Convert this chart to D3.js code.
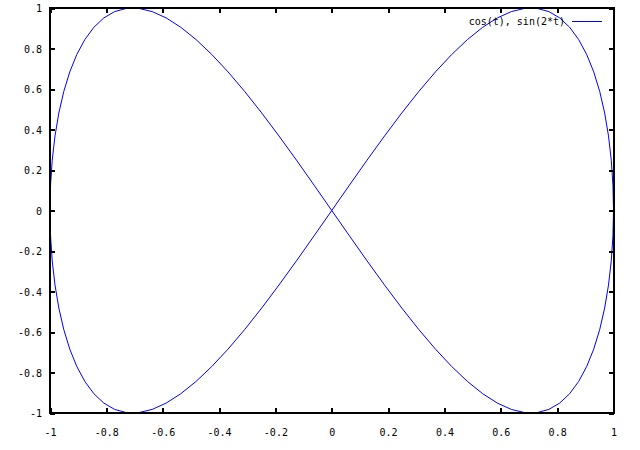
<!DOCTYPE html>
<html>
<head>
<meta charset="utf-8">
<script src="https://cdn.jsdelivr.net/npm/d3@7"></script>
<style>
  html, body { margin: 0; padding: 0; background: #fff; }
  svg { display: block; }
  text { font-family: "DejaVu Sans Mono", "Liberation Mono", monospace; font-size: 10px; fill: #000; }
</style>
</head>
<body>
<svg id="chart" width="640" height="450"></svg>
<script>
const xValues = [
  1.0000, 0.9980, 0.9921, 0.9823, 0.9686, 0.9511, 0.9298, 0.9048, 0.8763, 0.8443,
  0.8090, 0.7705, 0.7290, 0.6845, 0.6374, 0.5878, 0.5358, 0.4818, 0.4258, 0.3681,
  0.3090, 0.2487, 0.1874, 0.1253, 0.0628, 0.0000,
  -0.0628, -0.1253, -0.1874, -0.2487, -0.3090, -0.3681, -0.4258, -0.4818, -0.5358, -0.5878,
  -0.6374, -0.6845, -0.7290, -0.7705, -0.8090, -0.8443, -0.8763, -0.9048, -0.9298, -0.9511,
  -0.9686, -0.9823, -0.9921, -0.9980, -1.0000,
  -0.9980, -0.9921, -0.9823, -0.9686, -0.9511, -0.9298, -0.9048, -0.8763, -0.8443, -0.8090,
  -0.7705, -0.7290, -0.6845, -0.6374, -0.5878, -0.5358, -0.4818, -0.4258, -0.3681, -0.3090,
  -0.2487, -0.1874, -0.1253, -0.0628, 0.0000,
  0.0628, 0.1253, 0.1874, 0.2487, 0.3090, 0.3681, 0.4258, 0.4818, 0.5358, 0.5878,
  0.6374, 0.6845, 0.7290, 0.7705, 0.8090, 0.8443, 0.8763, 0.9048, 0.9298, 0.9511,
  0.9686, 0.9823, 0.9921, 0.9980, 1.0000
];
const yValues = [
  0.0000, 0.1253, 0.2487, 0.3681, 0.4818, 0.5878, 0.6845, 0.7705, 0.8443, 0.9048,
  0.9511, 0.9823, 0.9980, 0.9980, 0.9823, 0.9511, 0.9048, 0.8443, 0.7705, 0.6845,
  0.5878, 0.4818, 0.3681, 0.2487, 0.1253, 0.0000,
  -0.1253, -0.2487, -0.3681, -0.4818, -0.5878, -0.6845, -0.7705, -0.8443, -0.9048, -0.9511,
  -0.9823, -0.9980, -0.9980, -0.9823, -0.9511, -0.9048, -0.8443, -0.7705, -0.6845, -0.5878,
  -0.4818, -0.3681, -0.2487, -0.1253, 0.0000,
  0.1253, 0.2487, 0.3681, 0.4818, 0.5878, 0.6845, 0.7705, 0.8443, 0.9048, 0.9511,
  0.9823, 0.9980, 0.9980, 0.9823, 0.9511, 0.9048, 0.8443, 0.7705, 0.6845, 0.5878,
  0.4818, 0.3681, 0.2487, 0.1253, 0.0000,
  -0.1253, -0.2487, -0.3681, -0.4818, -0.5878, -0.6845, -0.7705, -0.8443, -0.9048, -0.9511,
  -0.9823, -0.9980, -0.9980, -0.9823, -0.9511, -0.9048, -0.8443, -0.7705, -0.6845, -0.5878,
  -0.4818, -0.3681, -0.2487, -0.1253, 0.0000
];
const xTicks = [-1, -0.8, -0.6, -0.4, -0.2, 0, 0.2, 0.4, 0.6, 0.8, 1];
const yTicks = [-1, -0.8, -0.6, -0.4, -0.2, 0, 0.2, 0.4, 0.6, 0.8, 1];
const seriesName = "cos(t), sin(2*t)";

const svg = d3.select("#chart");
const mLeft = 50, mRight = 613.5, mTop = 8, mBottom = 413;
const x = d3.scaleLinear().domain([-1, 1]).range([mLeft, mRight]);
const y = d3.scaleLinear().domain([-1, 1]).range([mBottom, mTop]);
const fmt = d => (Math.abs(d) < 1e-9 ? "0" : String(+d.toFixed(1)));
const tickLen = 5;

// curve
const pts = xValues.map((v, i) => [v, yValues[i]]);
svg.append("path")
  .datum(pts)
  .attr("fill", "none")
  .attr("stroke", "#0000ff")
  .attr("stroke-width", 1)
  .attr("d", d3.line().x(d => x(d[0])).y(d => y(d[1])));

// axes: bottom & top, left & right (mirrored ticks)
const gB = svg.append("g").attr("transform", `translate(0,${mBottom})`)
  .call(d3.axisBottom(x).tickValues(xTicks).tickSizeInner(-tickLen).tickSizeOuter(0).tickPadding(15.5).tickFormat(fmt));
const gT = svg.append("g").attr("transform", `translate(0,${mTop})`)
  .call(d3.axisTop(x).tickValues(xTicks).tickSizeInner(-tickLen).tickSizeOuter(0).tickFormat(""));
const gL = svg.append("g").attr("transform", `translate(${mLeft},0)`)
  .call(d3.axisLeft(y).tickValues(yTicks).tickSizeInner(-tickLen).tickSizeOuter(0).tickPadding(8).tickFormat(fmt));
const gR = svg.append("g").attr("transform", `translate(${mRight},0)`)
  .call(d3.axisRight(y).tickValues(yTicks).tickSizeInner(-tickLen).tickSizeOuter(0).tickFormat(""));

[gB, gT, gL, gR].forEach(g => {
  g.select(".domain").remove();
  g.selectAll(".tick line").attr("stroke", "#000").attr("stroke-width", 2).attr("shape-rendering", "crispEdges");
  g.selectAll("text").attr("font-family", null).attr("font-size", null).attr("fill", "#000");
});
gL.selectAll(".tick text").attr("dy", "0.35em");

// frame
svg.append("rect")
  .attr("x", mLeft).attr("y", mTop)
  .attr("width", mRight - mLeft).attr("height", mBottom - mTop)
  .attr("fill", "none").attr("stroke", "#000").attr("stroke-width", 2)
  .attr("shape-rendering", "crispEdges");

// legend
const legY = 21;
svg.append("text")
  .attr("x", 565).attr("y", legY).attr("dy", "0.35em")
  .attr("text-anchor", "end")
  .text(seriesName);
svg.append("line")
  .attr("x1", 572).attr("x2", 602).attr("y1", legY + 0.5).attr("y2", legY + 0.5)
  .attr("stroke", "#0000ff").attr("stroke-width", 1);
</script>
</body>
</html>
